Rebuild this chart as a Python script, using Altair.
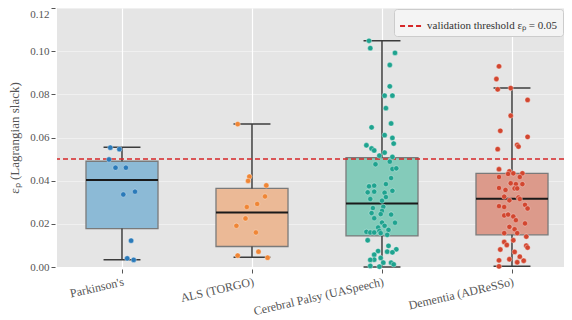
import json
import altair as alt
import pandas as pd

groups = ["Parkinson's", "ALS (TORGO)", "Cerebral Palsy (UASpeech)", "Dementia (ADReSSo)"]

# per-recording slack values (read from the strip points) and their horizontal jitter (category units)
pd_vals = [0.0553, 0.0546, 0.0498, 0.0460, 0.0460, 0.0336, 0.0349, 0.0122, 0.0040, 0.0033]
pd_jit = [-0.09, -0.02, -0.10, -0.05, 0.03, 0.01, 0.10, 0.07, 0.04, 0.09]

als_vals = [0.0662, 0.0419, 0.0399, 0.0378, 0.0327, 0.0292, 0.0278, 0.0225, 0.0191, 0.0160,
            0.0071, 0.0053, 0.0043]
als_jit = [-0.11, -0.02, -0.03, 0.11, 0.10, 0.04, -0.04, -0.05, -0.12, 0.03, 0.05, -0.11, 0.12]

cp_vals = [0.1048, 0.1014, 0.0992, 0.0936, 0.0837, 0.0794, 0.0794, 0.0736, 0.0665, 0.0647,
           0.0611, 0.0598, 0.0572, 0.0564, 0.0549, 0.0540, 0.0530, 0.0516, 0.0510, 0.0488,
           0.0476, 0.0454, 0.0457, 0.0412, 0.0384, 0.0374, 0.0377, 0.0353, 0.0346, 0.0349,
           0.0344, 0.0324, 0.0315, 0.0307, 0.0279, 0.0273, 0.0260, 0.0250, 0.0245, 0.0243,
           0.0226, 0.0206, 0.0205, 0.0191, 0.0183, 0.0172, 0.0167, 0.0163, 0.0160, 0.0160,
           0.0157, 0.0149, 0.0124, 0.0098, 0.0082, 0.0074, 0.0071, 0.0068, 0.0057, 0.0034,
           0.0033, 0.0042, 0.0020, 0.0012, 0.0020, 0.0002, 0.0005]
cp_jit = [-0.10, -0.09, 0.10, 0.06, 0.06, 0.02, 0.08, 0.03, 0.07, -0.08,
          0.02, 0.08, 0.09, -0.12, -0.08, -0.06, 0.02, -0.02, 0.08, 0.06,
          -0.05, 0.08, 0.11, 0.07, 0.03, -0.10, -0.06, 0.08, -0.11, -0.06,
          0.02, 0.03, -0.09, 0.00, 0.01, -0.07, 0.00, -0.08, -0.01, 0.07,
          -0.06, 0.00, 0.10, 0.02, -0.03, 0.05, -0.02, -0.12, -0.09, -0.06,
          -0.01, 0.04, -0.11, 0.05, 0.11, -0.03, 0.04, 0.08, -0.06, -0.06,
          -0.09, -0.01, 0.07, 0.09, 0.01, -0.02, -0.09]

dem_vals = [0.0930, 0.0871, 0.0823, 0.0829, 0.0774, 0.0701, 0.0631, 0.0603, 0.0566, 0.0558,
            0.0546, 0.0453, 0.0443, 0.0434, 0.0434, 0.0431, 0.0417, 0.0417, 0.0388, 0.0384,
            0.0384, 0.0366, 0.0364, 0.0364, 0.0357, 0.0326, 0.0322, 0.0309, 0.0315, 0.0282,
            0.0278, 0.0288, 0.0271, 0.0239, 0.0243, 0.0234, 0.0217, 0.0202, 0.0186, 0.0175,
            0.0157, 0.0157, 0.0141, 0.0124, 0.0116, 0.0102, 0.0099, 0.0090, 0.0081, 0.0070,
            0.0048, 0.0029, 0.0036, 0.0031, 0.0022, 0.0003]
dem_jit = [-0.10, -0.12, -0.11, -0.01, 0.12, -0.01, -0.09, 0.12, 0.04, 0.05,
           -0.11, -0.10, -0.02, 0.01, 0.08, -0.03, -0.10, 0.06, -0.01, 0.03,
           0.08, -0.10, 0.02, 0.04, -0.05, -0.06, 0.05, -0.02, 0.06, -0.10,
           -0.06, 0.10, 0.12, -0.06, -0.03, 0.01, 0.03, 0.10, -0.02, 0.02,
           0.04, -0.06, 0.11, 0.01, -0.06, -0.04, 0.11, 0.12, -0.09, 0.02,
           0.06, 0.09, -0.02, -0.10, 0.04, -0.10]

# box statistics as drawn
box_q1 = [0.0178, 0.0095, 0.0144, 0.0149]
box_median = [0.0403, 0.0253, 0.0294, 0.0316]
box_q3 = [0.0490, 0.0364, 0.0507, 0.0434]
whisker_low = [0.0034, 0.0045, 0.0000, 0.0003]
whisker_high = [0.0555, 0.0662, 0.1048, 0.0829]

threshold = 0.05
threshold_label = "validation threshold εₚ = 0.05"

y_ticks = [0, 0.02, 0.04, 0.06, 0.08, 0.10, 0.12]

point_colors = ["#2a7ab9", "#ef8636", "#1fa38f", "#d2462f"]
box_fill = ["#8cbad6", "#ebb996", "#84cbba", "#dc9a8b"]

rows = []
for i, (vals, jits) in enumerate([(pd_vals, pd_jit), (als_vals, als_jit),
                                  (cp_vals, cp_jit), (dem_vals, dem_jit)]):
    for v, j in zip(vals, jits):
        rows.append({"group": groups[i], "idx": i, "value": v, "jit": j})
points_df = pd.DataFrame(rows)

stats_df = pd.DataFrame({
    "group": groups, "idx": list(range(4)),
    "q1": box_q1, "med": box_median, "q3": box_q3,
    "wlo": whisker_low, "whi": whisker_high,
})
thr_df = pd.DataFrame({"thr": [threshold], "label": [threshold_label]})

FONT = "Liberation Serif"
xscale = alt.Scale(domain=[-0.5, 3.4], nice=False, zero=False)
yscale = alt.Scale(domain=[0, 0.12], nice=False, zero=False)
xaxis = alt.Axis(values=[0, 1, 2, 3], labelExpr=json.dumps(groups) + "[datum.value]",
                 title=None, labelAngle=347, labelAlign="right", labelBaseline="top",
                 labelFontSize=12, tickSize=4, offset=2, labelPadding=3,
                 labelOverlap=False, labelBound=False,
                 gridColor="white", gridOpacity=1, gridWidth=1.2)
yaxis = alt.Axis(values=y_ticks, format=".2f",
                 title="εₚ (Lagrangian slack)", titleFontSize=13, titleFontWeight="normal",
                 labelFontSize=11, tickSize=4, offset=2, titlePadding=8,
                 labelOverlap=False,
                 labelBaseline={"condition": {"test": "datum.value >= 0.119", "value": "top"},
                                "value": "middle"},
                 gridColor="white", gridOpacity=0.55, gridWidth=0.8)


def X(f):
    return alt.X(f, scale=xscale, axis=xaxis)


def Y(f):
    return alt.Y(f, scale=yscale, axis=yaxis)


stats = alt.Chart(stats_df).transform_calculate(
    xl="datum.idx - 0.277", xr="datum.idx + 0.277",
    cl="datum.idx - 0.142", cr="datum.idx + 0.142")

box = stats.mark_rect(stroke="#7a7a7a", strokeWidth=1.3).encode(
    x=X("xl:Q"), x2="xr:Q", y=Y("q1:Q"), y2="q3:Q",
    fill=alt.Fill("group:N", scale=alt.Scale(domain=groups, range=box_fill), legend=None))

wlow = stats.mark_rule(color="#3c3c3c", strokeWidth=1.5).encode(
    x=X("idx:Q"), y=Y("wlo:Q"), y2="q1:Q")
whigh = stats.mark_rule(color="#3c3c3c", strokeWidth=1.5).encode(
    x=X("idx:Q"), y=Y("q3:Q"), y2="whi:Q")
cap_low = stats.mark_rule(color="#3c3c3c", strokeWidth=1.5).encode(
    x=X("cl:Q"), x2="cr:Q", y=Y("wlo:Q"))
cap_high = stats.mark_rule(color="#3c3c3c", strokeWidth=1.5).encode(
    x=X("cl:Q"), x2="cr:Q", y=Y("whi:Q"))
median = stats.mark_rule(color="#1a1a1a", strokeWidth=2).encode(
    x=X("xl:Q"), x2="xr:Q", y=Y("med:Q"))

thr = alt.Chart(thr_df).mark_rule(strokeDash=[5, 3], strokeWidth=1.5).encode(
    y=Y("thr:Q"),
    stroke=alt.Stroke("label:N", scale=alt.Scale(domain=[threshold_label], range=["#d62728"]),
                      legend=alt.Legend(title=None, orient="top-right", symbolType="stroke",
                                        symbolDash=[5, 3], symbolStrokeWidth=1.8, symbolSize=480,
                                        labelFont=FONT, labelFontSize=11, labelColor="#333",
                                        fillColor="#f4f4f4", strokeColor="#cccccc", padding=5,
                                        cornerRadius=3, offset=1)))

pts = alt.Chart(points_df).transform_calculate(xp="datum.idx + datum.jit").mark_circle(
    size=28, opacity=1, stroke="white", strokeWidth=0.5, strokeOpacity=0.7).encode(
    x=X("xp:Q"), y=Y("value:Q"),
    color=alt.Color("group:N", scale=alt.Scale(domain=groups, range=point_colors), legend=None))

chart = alt.layer(box, wlow, whigh, cap_low, cap_high, median, thr, pts).properties(
    width=507, height=259,
    autosize=alt.AutoSizeParams(type="none"),
    padding={"left": 49, "top": 0, "right": 0, "bottom": 52},
).configure_view(fill="#e5e5e5", stroke=None).configure_axis(
    labelFont=FONT, titleFont=FONT, labelColor="#555", titleColor="#555",
    tickColor="#555", domain=False)

chart.save("out.html", embed_options={"renderer": "svg", "actions": False})
